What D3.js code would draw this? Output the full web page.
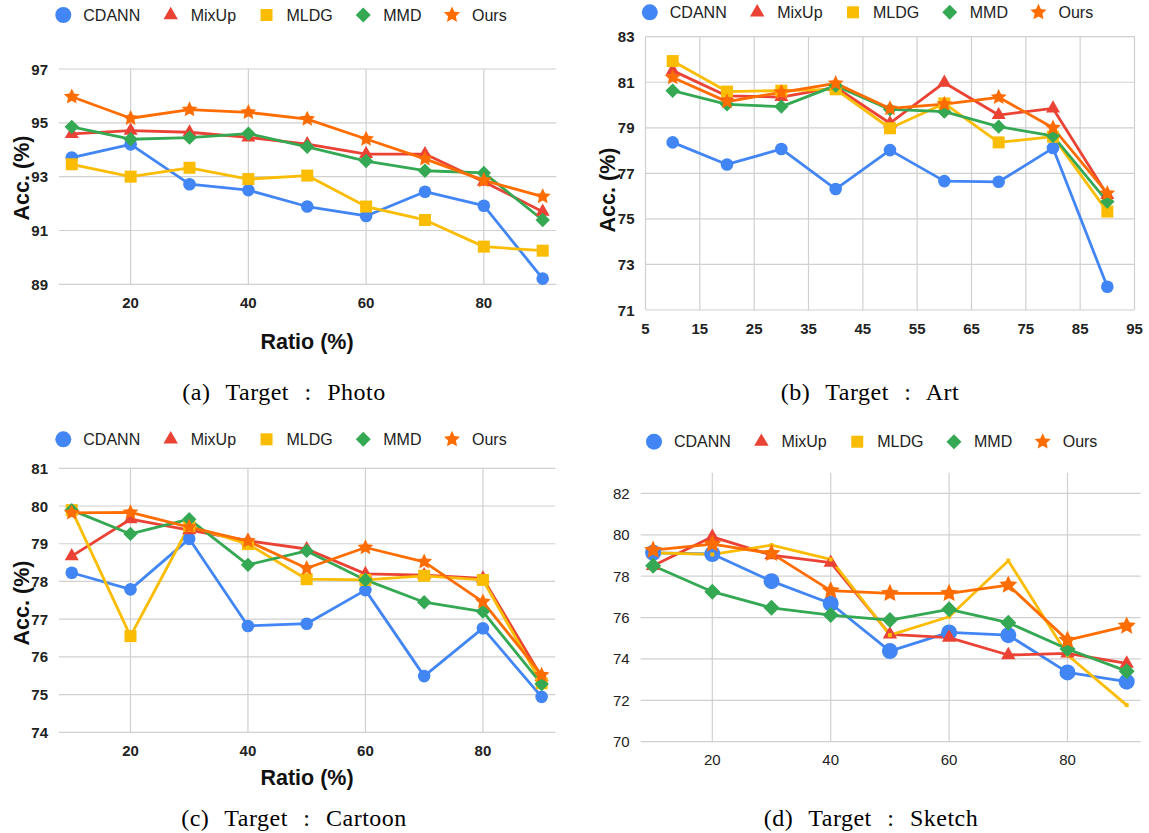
<!DOCTYPE html>
<html>
<head>
<meta charset="utf-8">
<script src="https://cdn.jsdelivr.net/npm/d3@7"></script>
<style>
  html, body { margin: 0; padding: 0; background: #fff; }
  svg { display: block; }
  .tick-bold { font: bold 15px "Liberation Sans", Arial, sans-serif; fill: #222; }
  .tick-reg { font: 15px "Liberation Sans", Arial, sans-serif; fill: #222; }
  .axis-title { font: bold 21.5px "Liberation Sans", Arial, sans-serif; fill: #111; }
  .legend-text { font: 16px "Liberation Sans", Arial, sans-serif; fill: #222; }
  .caption { font: 24px "Liberation Serif", "Times New Roman", serif; fill: #000; letter-spacing: 0.5px; word-spacing: 9px; }
</style>
</head>
<body>
<svg id="chart" width="1149" height="833"></svg>
<script>
// Target-domain accuracy (%) versus labelled ratio (%) for five methods
const ratios = [10, 20, 30, 40, 50, 60, 70, 80, 90];
const methods = ["CDANN", "MixUp", "MLDG", "MMD", "Ours"];

// rows follow the order of `methods`
const photoAcc = [
  [93.71, 94.20, 92.72, 92.50, 91.89, 91.54, 92.44, 91.92, 89.21],
  [94.59, 94.71, 94.65, 94.46, 94.21, 93.84, 93.84, 92.81, 91.70],
  [93.46, 93.00, 93.33, 92.91, 93.04, 91.89, 91.39, 90.40, 90.25],
  [94.85, 94.39, 94.45, 94.60, 94.11, 93.58, 93.22, 93.14, 91.39],
  [95.97, 95.17, 95.49, 95.39, 95.14, 94.40, 93.66, 92.86, 92.26]
];
const artAcc = [
  [78.36, 77.39, 78.07, 76.31, 78.02, 76.66, 76.63, 78.11, 72.02],
  [81.51, 80.40, 80.35, 80.78, 79.20, 80.98, 79.56, 79.85, 76.05],
  [81.93, 80.59, 80.63, 80.69, 78.98, 80.07, 78.36, 78.61, 75.32],
  [80.63, 80.03, 79.93, 80.85, 79.81, 79.71, 79.05, 78.65, 75.76],
  [81.21, 80.15, 80.56, 80.95, 79.85, 80.04, 80.34, 79.00, 76.12]
];
const cartoonAcc = [
  [78.23, 77.79, 79.13, 76.82, 76.88, 77.77, 75.49, 76.76, 74.94],
  [78.67, 79.65, 79.36, 79.08, 78.86, 78.20, 78.17, 78.08, 75.47],
  [79.89, 76.55, 79.47, 78.99, 78.06, 78.04, 78.15, 78.04, 75.30],
  [79.89, 79.26, 79.65, 78.44, 78.81, 78.04, 77.45, 77.20, 75.28],
  [79.82, 79.83, 79.44, 79.07, 78.35, 78.90, 78.52, 77.46, 75.52]
];
const sketchAcc = [
  [79.13, 79.07, 77.76, 76.68, 74.38, 75.28, 75.15, 73.35, 72.90],
  [78.50, 79.90, 79.02, 78.65, 75.19, 75.03, 74.19, 74.27, 73.78],
  [79.13, 79.05, 79.50, 78.81, 75.15, 76.04, 78.75, 74.19, 71.77],
  [78.50, 77.25, 76.47, 76.12, 75.88, 76.40, 75.75, 74.48, 73.41],
  [79.26, 79.55, 79.10, 77.30, 77.17, 77.17, 77.57, 74.91, 75.59]
];

// tick labels
const ratioTicks = [20, 40, 60, 80];
const artRatioTicks = [5, 15, 25, 35, 45, 55, 65, 75, 85, 95];
const photoTicks = [89, 91, 93, 95, 97];
const artTicks = [71, 73, 75, 77, 79, 81, 83];
const cartoonTicks = [74, 75, 76, 77, 78, 79, 80, 81];
const sketchTicks = [70, 72, 74, 76, 78, 80, 82];

const captions = ["(a) Target : Photo", "(b) Target : Art", "(c) Target : Cartoon", "(d) Target : Sketch"];
const yTitle = "Acc. (%)";
const xTitle = "Ratio (%)";

// styling
const colors = ["#4285F4", "#EA4335", "#FBBC04", "#34A853", "#FF6D01"];
const shapes = ["circle", "triangle", "square", "diamond", "star"];

const svg = d3.select("#chart");

// marker path generator, size is a characteristic radius in px
function markerPath(shape, s) {
  const p = d3.path();
  if (shape === "circle") {
    p.arc(0, 0, s, 0, 2 * Math.PI); p.closePath();
  } else if (shape === "square") {
    p.rect(-s, -s, 2 * s, 2 * s);
  } else if (shape === "triangle") {
    const h = s * Math.sqrt(3);            // s = half side
    p.moveTo(0, -h * 2 / 3); p.lineTo(s, h / 3); p.lineTo(-s, h / 3); p.closePath();
  } else if (shape === "diamond") {
    p.moveTo(0, -s); p.lineTo(s, 0); p.lineTo(0, s); p.lineTo(-s, 0); p.closePath();
  } else if (shape === "star") {
    const inner = s * 0.48;
    for (let i = 0; i < 10; i++) {
      const r = i % 2 === 0 ? s : inner;
      const a = -Math.PI / 2 + i * Math.PI / 5;
      const x = r * Math.cos(a), y = r * Math.sin(a);
      if (i === 0) p.moveTo(x, y); else p.lineTo(x, y);
    }
    p.closePath();
  }
  return p.toString();
}

const boldMarks = { circle: 6.3, triangle: 7, square: 6, diamond: 7.2, star: 8.3 };
const sketchMarks = { circle: 8, triangle: 7.2, square: 2, diamond: 8, star: 9.5 };
const legendMarks = { circle: 8, triangle: 7.2, square: 6, diamond: 7.5, star: 8.5 };

const panels = [
  { data: photoAcc, xDom: [7.83, 92.31], xRange: [59, 556.3], yDom: [89, 97], yRange: [284.3, 69],
    yTicks: photoTicks, xTicks: ratioTicks, bold: true,
    yTitle: [22, 178], xTitle: [307, 342], legend: [63.3, 15], caption: [284, 392], marks: boldMarks },
  { data: artAcc, xDom: [5, 95], xRange: [645.5, 1134.5], yDom: [71, 83], yRange: [310, 36.7],
    yTicks: artTicks, xTicks: artRatioTicks, bold: true,
    yTitle: [608, 190], xTitle: null, legend: [649.8, 12.3], caption: [870, 392], marks: boldMarks },
  { data: cartoonAcc, xDom: [7.83, 92.31], xRange: [59, 555.2], yDom: [74, 81], yRange: [732.3, 468.3],
    yTicks: cartoonTicks, xTicks: ratioTicks, bold: true,
    yTitle: [22, 603], xTitle: [307, 778], legend: [63.3, 439.3], caption: [294, 818], marks: boldMarks },
  { data: sketchAcc, xDom: [7.9, 92.35], xRange: [640.7, 1140.6], yDom: [70, 83], yRange: [741.7, 472.7],
    yTicks: sketchTicks, xTicks: ratioTicks, bold: false,
    yTitle: null, xTitle: null, legend: [654, 441.7], caption: [871, 818], marks: sketchMarks }
];

panels.forEach((P, pi) => {
  const g = svg.append("g");
  const x = d3.scaleLinear().domain(P.xDom).range(P.xRange);
  const y = d3.scaleLinear().domain(P.yDom).range(P.yRange);
  const [x0, x1] = P.xRange;
  const [yb, yt] = P.yRange;
  const tickClass = P.bold ? "tick-bold" : "tick-reg";

  // grid
  const grid = g.append("g").attr("stroke", "#d0d0d0").attr("stroke-width", 1.2);
  grid.selectAll("line.h").data(P.yTicks).join("line")
    .attr("x1", x0).attr("x2", x1)
    .attr("y1", d => y(d)).attr("y2", d => y(d));
  grid.selectAll("line.v").data(P.xTicks).join("line")
    .attr("x1", d => x(d)).attr("x2", d => x(d))
    .attr("y1", yb).attr("y2", yt);

  // y tick labels
  g.append("g").selectAll("text").data(P.yTicks).join("text")
    .attr("class", tickClass)
    .attr("x", x0 - 11).attr("y", d => y(d))
    .attr("text-anchor", "end").attr("dominant-baseline", "central")
    .text(d => d);

  // x tick labels
  g.append("g").selectAll("text").data(P.xTicks).join("text")
    .attr("class", tickClass)
    .attr("x", d => x(d)).attr("y", yb + 18)
    .attr("text-anchor", "middle").attr("dominant-baseline", "central")
    .text(d => d);

  // axis titles
  if (P.yTitle) {
    g.append("text").attr("class", "axis-title")
      .attr("transform", `translate(${P.yTitle[0]},${P.yTitle[1]}) rotate(-90)`)
      .attr("text-anchor", "middle").attr("dominant-baseline", "central")
      .text(yTitle);
  }
  if (P.xTitle) {
    g.append("text").attr("class", "axis-title")
      .attr("x", P.xTitle[0]).attr("y", P.xTitle[1])
      .attr("text-anchor", "middle").attr("dominant-baseline", "central")
      .text(xTitle);
  }

  // series lines
  const line = d3.line().x((d, i) => x(ratios[i])).y(d => y(d));
  const lines = g.append("g");
  P.data.forEach((vals, si) => {
    lines.append("path").datum(vals)
      .attr("d", line)
      .attr("fill", "none")
      .attr("stroke", colors[si])
      .attr("stroke-width", 2.8)
      .attr("stroke-linejoin", "round");
  });

  // series markers
  const pts = g.append("g");
  P.data.forEach((vals, si) => {
    pts.append("g").selectAll("path").data(vals).join("path")
      .attr("transform", (d, i) => `translate(${x(ratios[i])},${y(d)})`)
      .attr("d", markerPath(shapes[si], P.marks[shapes[si]]))
      .attr("fill", colors[si]);
  });

  // legend
  const leg = g.append("g");
  let lx = P.legend[0];
  const ly = P.legend[1];
  methods.forEach((m, si) => {
    leg.append("path")
      .attr("transform", `translate(${lx},${ly})`)
      .attr("d", markerPath(shapes[si], legendMarks[shapes[si]]))
      .attr("fill", colors[si]);
    const t = leg.append("text").attr("class", "legend-text")
      .attr("x", lx + 20).attr("y", ly)
      .attr("dominant-baseline", "central")
      .text(m);
    lx += 20 + t.node().getComputedTextLength() + 30.5;
  });

  // caption
  g.append("text").attr("class", "caption")
    .attr("x", P.caption[0]).attr("y", P.caption[1])
    .attr("text-anchor", "middle").attr("dominant-baseline", "central")
    .text(captions[pi]);
});
</script>
</body>
</html>
